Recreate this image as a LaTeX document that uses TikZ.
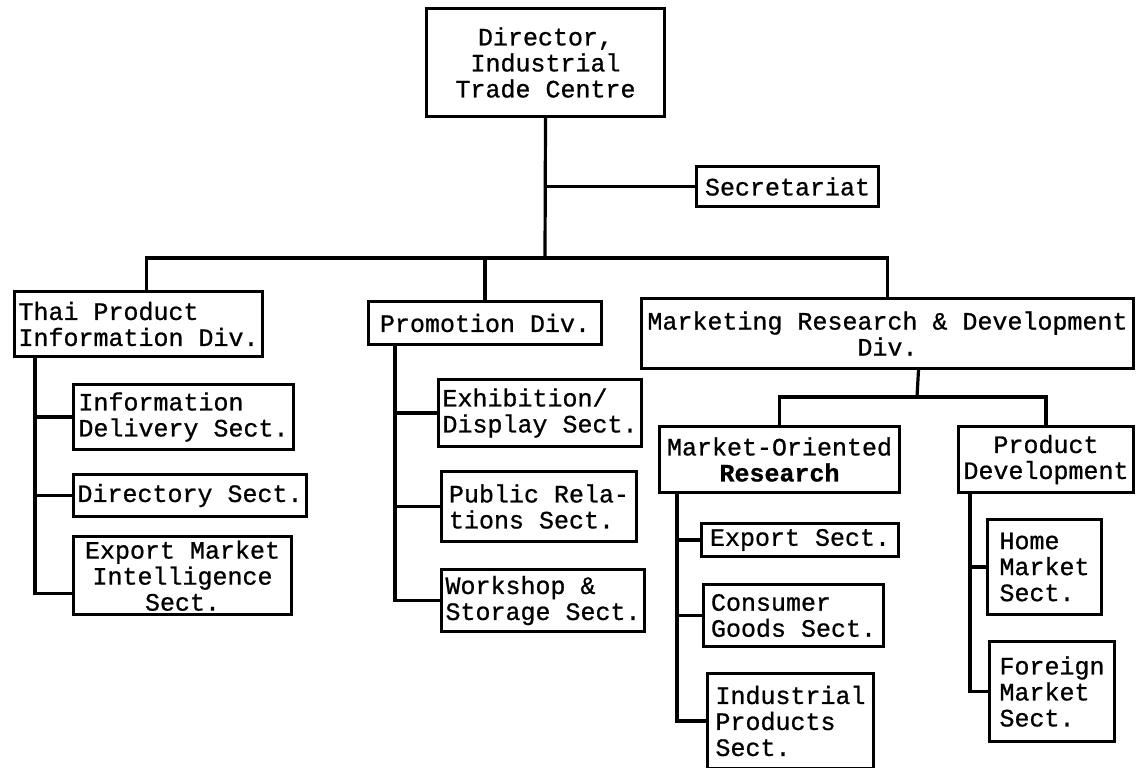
\documentclass[tikz,border=0pt]{standalone}
\usepackage{fontspec}
\newfontfamily\tw[FakeBold=0.8]{Liberation Mono}

\begin{document}
\begin{tikzpicture}[x=0.5pt,y=-0.5pt,
    box/.style={draw,line width=1.5pt,anchor=north west,inner sep=2pt,
        font=\tw\fontsize{12.5}{13}\selectfont},
    link/.style={line width=1.6pt}]
            \useasboundingbox (0,0) rectangle (1137,767);

            % Draw the top of the chart
            \node[box,align=center,minimum width=119pt,minimum height=54pt] (dir) at (425,7) {Director,\\Industrial\\Trade Centre};
            \node[box,minimum width=91pt,minimum height=20pt] (sec) at (695,165) {Secretariat};

            % Divisions
            \node[box,align=left,minimum width=123.5pt,minimum height=32.5pt] (thai) at (13,290) {Thai Product\\Information Div.};
            \node[box,minimum width=116.5pt,minimum height=21.5pt] (promo) at (367,300) {Promotion Div.};
            \node[box,align=center,minimum width=246pt,minimum height=35pt] (mrd) at (640,297) {Marketing Research \& Development\\Div.};
            \node[box,align=center,minimum width=120pt,minimum height=33pt] (mor) at (658,425) {Market-Oriented\\\textbf{Research}};
            \node[box,align=center,minimum width=87.5pt,minimum height=33pt] (pdv) at (957,425) {Product\\Development};

            % Sections
            \node[box,align=left,minimum width=110pt,minimum height=32.5pt] (infodel) at (72,383) {Information\\Delivery Sect.};
            \node[box,minimum width=116.5pt,minimum height=21pt] (dirsec) at (72,473) {Directory Sect.};
            \node[box,align=center,minimum width=109pt,minimum height=37.5pt] (emi) at (72,535) {Export Market\\Intelligence\\Sect.};
            \node[box,align=left,minimum width=98pt,minimum height=33.5pt] (exh) at (437,378) {Exhibition/\\Display Sect.};
            \node[box,align=left,minimum width=97.5pt,minimum height=35pt] (pr) at (440,470) {Public Rela-\\tions Sect.};
            \node[box,align=left,minimum width=98.5pt,minimum height=31pt] (wks) at (440,568) {Workshop \&\\Storage Sect.};
            \node[box,minimum width=98.5pt,minimum height=16.5pt] (exps) at (700,522) {Export Sect.};
            \node[box,align=left,minimum width=90pt,minimum height=31pt] (cons) at (702,583) {Consumer\\Goods Sect.};
            \node[box,align=left,minimum width=83pt,minimum height=47.5pt] (ind) at (706,672) {Industrial\\Products\\Sect.};
            \node[box,align=left,minimum width=57pt,minimum height=47.5pt] (home) at (986,518) {Home\\Market\\Sect.};
            \node[box,align=left,minimum width=62.5pt,minimum height=50pt] (forn) at (988,640) {Foreign\\Market\\Sect.};

            % Main lines
            \coordinate (bus) at (545,258);
            \draw[link] (dir.south) -- (bus);
            \draw[link] (dir.south |- sec.west) -- (sec.west);
            \draw[link] ([xshift=4pt]thai.north) |- (bus) -| (mrd.north);
            \draw[link] (promo.north) -- (promo.north |- bus);

            % lines under Marketing Research & Development
            \coordinate (mrdT) at ([xshift=15.5pt]mrd.south);
            \coordinate (sub) at (917,397);
            \draw[link] (mrdT) -- (sub);
            \draw[link] (mor.north) |- (sub) -| (pdv.north);

            % trunks to the sections
            \coordinate (thaiT) at ([xshift=11pt]thai.south west);
            \draw[link] (thaiT) |- ([yshift=-9pt]emi.west);
            \draw[link] (thaiT |- infodel.west) -- (infodel.west);
            \draw[link] (thaiT |- dirsec.west) -- (dirsec.west);

            \coordinate (promoT) at ([xshift=14pt]promo.south west);
            \draw[link] (promoT) |- (wks.west);
            \draw[link] (promoT |- exh.west) -- (exh.west);
            \draw[link] (promoT |- pr.west) -- (pr.west);

            \coordinate (morT) at ([xshift=9.5pt]mor.south west);
            \draw[link] (morT) |- (ind.west);
            \draw[link] (morT |- exps.west) -- (exps.west);
            \draw[link] (morT |- cons.west) -- (cons.west);

            \coordinate (pdvT) at ([xshift=6.5pt]pdv.south west);
            \draw[link] (pdvT) |- (forn.west);
            \draw[link] (pdvT |- home.west) -- (home.west);
        \end{tikzpicture}
\end{document}
